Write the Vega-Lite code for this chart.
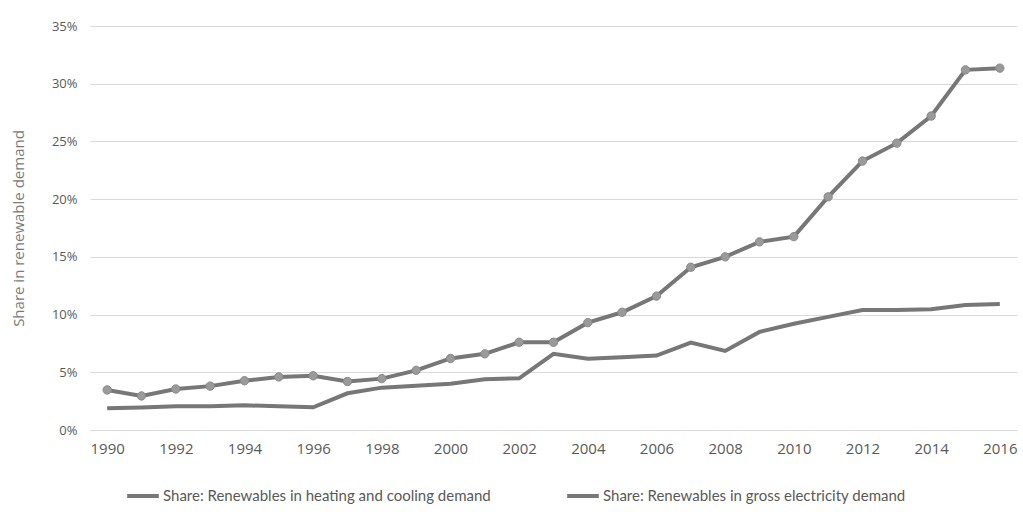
{
  "$schema": "https://vega.github.io/schema/vega-lite/v6.json",
  "autosize": "none",
  "padding": {"left": 90, "top": 26, "right": 6, "bottom": 97},
  "width": 927,
  "height": 404,
  "background": "white",
  "config": {"view": {"stroke": null}, "font": "Open Sans"},
  "datasets": {
    "d": [
      {"year": 1990, "series": "Share: Renewables in heating and cooling demand", "share": 1.88},
      {"year": 1991, "series": "Share: Renewables in heating and cooling demand", "share": 1.95},
      {"year": 1992, "series": "Share: Renewables in heating and cooling demand", "share": 2.05},
      {"year": 1993, "series": "Share: Renewables in heating and cooling demand", "share": 2.05},
      {"year": 1994, "series": "Share: Renewables in heating and cooling demand", "share": 2.14},
      {"year": 1995, "series": "Share: Renewables in heating and cooling demand", "share": 2.05},
      {"year": 1996, "series": "Share: Renewables in heating and cooling demand", "share": 1.97},
      {"year": 1997, "series": "Share: Renewables in heating and cooling demand", "share": 3.18},
      {"year": 1998, "series": "Share: Renewables in heating and cooling demand", "share": 3.67},
      {"year": 1999, "series": "Share: Renewables in heating and cooling demand", "share": 3.84},
      {"year": 2000, "series": "Share: Renewables in heating and cooling demand", "share": 4.0},
      {"year": 2001, "series": "Share: Renewables in heating and cooling demand", "share": 4.4},
      {"year": 2002, "series": "Share: Renewables in heating and cooling demand", "share": 4.48},
      {"year": 2003, "series": "Share: Renewables in heating and cooling demand", "share": 6.6},
      {"year": 2004, "series": "Share: Renewables in heating and cooling demand", "share": 6.18},
      {"year": 2005, "series": "Share: Renewables in heating and cooling demand", "share": 6.3},
      {"year": 2006, "series": "Share: Renewables in heating and cooling demand", "share": 6.45},
      {"year": 2007, "series": "Share: Renewables in heating and cooling demand", "share": 7.57},
      {"year": 2008, "series": "Share: Renewables in heating and cooling demand", "share": 6.85},
      {"year": 2009, "series": "Share: Renewables in heating and cooling demand", "share": 8.5},
      {"year": 2010, "series": "Share: Renewables in heating and cooling demand", "share": 9.2},
      {"year": 2011, "series": "Share: Renewables in heating and cooling demand", "share": 9.8},
      {"year": 2012, "series": "Share: Renewables in heating and cooling demand", "share": 10.4},
      {"year": 2013, "series": "Share: Renewables in heating and cooling demand", "share": 10.4},
      {"year": 2014, "series": "Share: Renewables in heating and cooling demand", "share": 10.46},
      {"year": 2015, "series": "Share: Renewables in heating and cooling demand", "share": 10.83},
      {"year": 2016, "series": "Share: Renewables in heating and cooling demand", "share": 10.92},
      {"year": 1990, "series": "Share: Renewables in gross electricity demand", "share": 3.47},
      {"year": 1991, "series": "Share: Renewables in gross electricity demand", "share": 2.95},
      {"year": 1992, "series": "Share: Renewables in gross electricity demand", "share": 3.55},
      {"year": 1993, "series": "Share: Renewables in gross electricity demand", "share": 3.8},
      {"year": 1994, "series": "Share: Renewables in gross electricity demand", "share": 4.27},
      {"year": 1995, "series": "Share: Renewables in gross electricity demand", "share": 4.6},
      {"year": 1996, "series": "Share: Renewables in gross electricity demand", "share": 4.7},
      {"year": 1997, "series": "Share: Renewables in gross electricity demand", "share": 4.2},
      {"year": 1998, "series": "Share: Renewables in gross electricity demand", "share": 4.45},
      {"year": 1999, "series": "Share: Renewables in gross electricity demand", "share": 5.17},
      {"year": 2000, "series": "Share: Renewables in gross electricity demand", "share": 6.2},
      {"year": 2001, "series": "Share: Renewables in gross electricity demand", "share": 6.6},
      {"year": 2002, "series": "Share: Renewables in gross electricity demand", "share": 7.6},
      {"year": 2003, "series": "Share: Renewables in gross electricity demand", "share": 7.6},
      {"year": 2004, "series": "Share: Renewables in gross electricity demand", "share": 9.3},
      {"year": 2005, "series": "Share: Renewables in gross electricity demand", "share": 10.2},
      {"year": 2006, "series": "Share: Renewables in gross electricity demand", "share": 11.6},
      {"year": 2007, "series": "Share: Renewables in gross electricity demand", "share": 14.1},
      {"year": 2008, "series": "Share: Renewables in gross electricity demand", "share": 15.0},
      {"year": 2009, "series": "Share: Renewables in gross electricity demand", "share": 16.3},
      {"year": 2010, "series": "Share: Renewables in gross electricity demand", "share": 16.75},
      {"year": 2011, "series": "Share: Renewables in gross electricity demand", "share": 20.2},
      {"year": 2012, "series": "Share: Renewables in gross electricity demand", "share": 23.3},
      {"year": 2013, "series": "Share: Renewables in gross electricity demand", "share": 24.85},
      {"year": 2014, "series": "Share: Renewables in gross electricity demand", "share": 27.2},
      {"year": 2015, "series": "Share: Renewables in gross electricity demand", "share": 31.2},
      {"year": 2016, "series": "Share: Renewables in gross electricity demand", "share": 31.35}
    ]
  },
  "data": {"name": "d"},
  "encoding": {
    "x": {
      "field": "year", "type": "quantitative",
      "scale": {"domain": [1989.5, 2016.5], "nice": false, "zero": false},
      "axis": {
        "title": null, "grid": false, "domain": false, "ticks": false,
        "values": [1990,1992,1994,1996,1998,2000,2002,2004,2006,2008,2010,2012,2014,2016],
        "format": "d", "labelFontSize": 15, "labelColor": "#595959", "labelPadding": 11,
        "labelFont": "Open Sans"
      }
    },
    "y": {
      "field": "share", "type": "quantitative",
      "scale": {"domain": [0, 35], "nice": false},
      "axis": {
        "title": "Share in renewable demand", "titleFontSize": 15, "titleFontWeight": "normal",
        "titleColor": "#7a7a7a", "titlePadding": 25, "titleFont": "Open Sans",
        "values": [0,5,10,15,20,25,30,35],
        "labelExpr": "datum.value + '%'",
        "grid": true, "gridColor": "#d9d9d9", "gridWidth": 1,
        "domain": false, "ticks": false, "labelPadding": 13,
        "labelFontSize": 13, "labelColor": "#595959", "labelFont": "Open Sans"
      }
    }
  },
  "layer": [
    {
      "mark": {"type": "line", "strokeWidth": 4},
      "encoding": {
        "color": {
          "field": "series", "type": "nominal",
          "scale": {
            "domain": ["Share: Renewables in heating and cooling demand", "Share: Renewables in gross electricity demand"],
            "range": ["#777777", "#777777"]
          },
          "legend": {
            "title": null, "orient": "none", "legendX": 35, "legendY": 452,
            "direction": "horizontal", "symbolType": "stroke", "symbolSize": 1000,
            "symbolStrokeWidth": 4, "labelFontSize": 15, "labelColor": "#595959",
            "labelFont": "Lato", "labelLimit": 450, "columnPadding": 68, "labelOffset": 2
          }
        }
      }
    },
    {
      "transform": [{"filter": "datum.series === 'Share: Renewables in gross electricity demand'"}],
      "mark": {"type": "point", "filled": true, "size": 70, "fill": "#9a9a9a", "stroke": "#8a8a8a", "strokeWidth": 1, "opacity": 1}
    }
  ]
}
